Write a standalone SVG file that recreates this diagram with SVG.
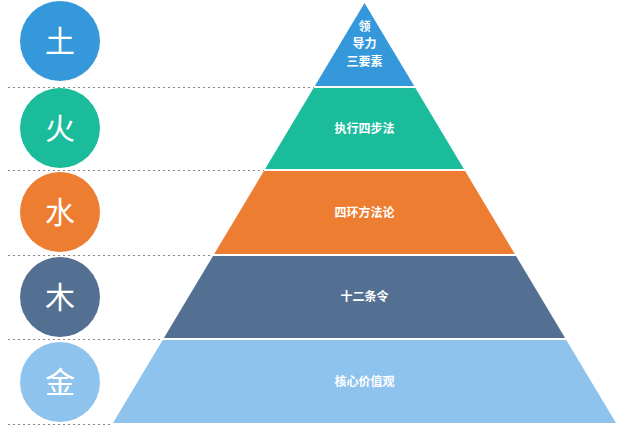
<svg xmlns="http://www.w3.org/2000/svg" width="619" height="434" viewBox="0 0 619 434">
<style>
.c{font-family:"Noto Sans CJK SC",sans-serif;font-size:30px;fill:#fff;text-anchor:middle}
.t{font-family:"Noto Sans CJK SC",sans-serif;font-size:12px;font-weight:bold;fill:#fff;text-anchor:middle}
.d{stroke:#888;stroke-width:1;stroke-dasharray:2,3}
</style>
<rect width="619" height="434" fill="#fff"/>
<g id="lines">
<line class="d" x1="8" y1="87.5" x2="314" y2="87.5"/>
<line class="d" x1="8" y1="170.5" x2="264" y2="170.5"/>
<line class="d" x1="8" y1="255.5" x2="213" y2="255.5"/>
<line class="d" x1="8" y1="339.5" x2="163" y2="339.5"/>
<line class="d" x1="8" y1="424.5" x2="113" y2="424.5"/>
</g>
<g id="c1"><circle cx="60" cy="41" r="40" fill="#3498DB"/><text class="c" x="60" y="52">土</text></g>
<g id="c2"><circle cx="60" cy="128" r="40" fill="#1ABC9C"/><text class="c" x="60" y="139">火</text></g>
<g id="c3"><circle cx="60" cy="212" r="40" fill="#ED7D31"/><text class="c" x="60" y="223">水</text></g>
<g id="c4"><circle cx="60" cy="297" r="40" fill="#536F92"/><text class="c" x="60" y="308">木</text></g>
<g id="c5"><circle cx="60" cy="382" r="40" fill="#8EC3EE"/><text class="c" x="60" y="393">金</text></g>
<g id="p1"><polygon points="364.5,3 414.2,86 314.8,86" fill="#3498DB"/>
<text class="t" x="364.5" y="31">领</text><text class="t" x="364.5" y="48">导力</text><text class="t" x="364.5" y="66">三要素</text></g>
<g id="p2"><polygon points="313.6,88 415.4,88 463.9,169 265.1,169" fill="#1ABC9C"/><text class="t" x="364.5" y="133">执行四步法</text></g>
<g id="p3"><polygon points="263.9,171 465.1,171 514.8,254 214.2,254" fill="#ED7D31"/><text class="t" x="364.5" y="217">四环方法论</text></g>
<g id="p4"><polygon points="213,256 516,256 565.1,338 163.9,338" fill="#536F92"/><text class="t" x="364.5" y="301">十二条令</text></g>
<g id="p5"><polygon points="162.7,340 566.3,340 616,423 113,423" fill="#8EC3EE"/><text class="t" x="364.5" y="386">核心价值观</text></g>
</svg>
